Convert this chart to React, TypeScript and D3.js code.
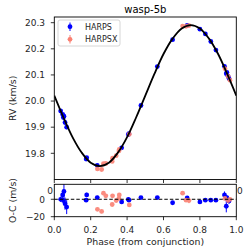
import { scaleLinear, line as d3Line, curveCatmullRom } from 'd3';

// model curve (phase, RV km/s)
const modelPhase = [0, 0.05, 0.1, 0.15, 0.2, 0.25, 0.3, 0.35, 0.4, 0.45, 0.5, 0.55, 0.6, 0.65, 0.7, 0.75, 0.8, 0.85, 0.9, 0.95, 1.0];
const modelRv = [20.021, 19.938, 19.862, 19.803, 19.764, 19.751, 19.764, 19.803, 19.862, 19.938, 20.021, 20.104, 20.18, 20.239, 20.278, 20.291, 20.278, 20.239, 20.18, 20.104, 20.021];

// HARPS
const harpsPhase = [0.035, 0.046, 0.053, 0.059, 0.068, 0.05, 0.178, 0.175, 0.236, 0.37, 0.407, 0.41, 0.476, 0.566, 0.65, 0.73, 0.8, 0.83, 0.86, 0.888, 0.935, 0.945, 0.948, 0.955, 0.96];
const harpsRv = [19.962, 19.949, 19.942, 19.918, 19.9, 19.937, 19.783, 19.778, 19.754, 19.821, 19.872, 19.875, 19.983, 20.132, 20.235, 20.29, 20.275, 20.257, 20.228, 20.195, 20.133, 20.105, 20.11, 20.095, 20.086];
const harpsRes = [0, 5, 9, -5, -9, -1.5, 5, -1, 2, -3, 0, -1, 2, 2, -4, 1.5, -3, -1, -1, -1, 5, -8, 2, -1, -2];
const harpsErr = [3, 4, 10, 7, 8, 3, 2.5, 2, 2, 2, 2, 2, 1.5, 1.5, 2, 1.5, 1.5, 1.5, 1.5, 1.5, 4, 7, 3, 3, 3];

// HARPSX
const harpsxPhase = [0.237, 0.26, 0.27, 0.283, 0.32, 0.318, 0.34, 0.357, 0.355, 0.412, 0.705, 0.724, 0.74, 0.938, 0.955, 0.965];
const harpsxRv = [19.74, 19.738, 19.76, 19.761, 19.781, 19.769, 19.791, 19.815, 19.809, 19.873, 20.287, 20.286, 20.289, 20.124, 20.095, 20.08];
const harpsxRes = [-11.5, -14, 7, 4, 4, -6, -1.5, 5, 1, -6.5, 7, -1, -1.5, 1, -1.5, 0];
const harpsxErr = [2, 2, 2, 2, 2, 2, 2, 2, 2, 2, 2, 2, 3, 2, 2, 2];

const rvTicks = [19.8, 19.9, 20.0, 20.1, 20.2, 20.3];
const resTicks = [0, -20];
const phaseTicks = [0, 0.2, 0.4, 0.6, 0.8, 1.0];

const BLUE = '#0000ff';
const RED = '#fa8072';
const FONT = 'DejaVu Sans, sans-serif';
const TXT = '#262626';

const App = () => {
  const x = scaleLinear().domain([0, 1]).range([54.3, 236.3]);
  const yTop = scaleLinear().domain([19.6997, 20.3218]).range([179.5, 17]);
  const yBot = scaleLinear().domain([-20, 17.2]).range([216.7, 184.3]);

  const model = d3Line<number>()
    .x((p) => x(p))
    .y((_, i) => yTop(modelRv[i]))
    .curve(curveCatmullRom);

  const topPts = (ph: number[], rv: number[], err: number[], c: string) =>
    ph.map((p, i) => (
      <g key={c + i}>
        <line x1={x(p)} x2={x(p)} y1={yTop(rv[i] - err[i] / 1000)} y2={yTop(rv[i] + err[i] / 1000)} stroke={c} strokeWidth={1} />
        <circle cx={x(p)} cy={yTop(rv[i])} r={2.4} fill={c} />
      </g>
    ));

  const botPts = (ph: number[], res: number[], err: number[], c: string) =>
    ph.map((p, i) => (
      <g key={c + 'r' + i}>
        <line x1={x(p)} x2={x(p)} y1={yBot(res[i] - err[i])} y2={yBot(res[i] + err[i])} stroke={c} strokeWidth={1} />
        <circle cx={x(p)} cy={yBot(res[i])} r={2.4} fill={c} />
      </g>
    ));

  return (
    <svg width={249} height={249} style={{ position: 'absolute', left: 0, top: 0 }} fontFamily={FONT}>
      <rect width={249} height={249} fill="white" />
      <text x={145.3} y={12.5} fontSize={10} textAnchor="middle" fill="black">wasp-5b</text>

      {/* top panel */}
      <defs>
        <clipPath id="clipTop"><rect x={54.3} y={17} width={182} height={162.5} /></clipPath>
        <clipPath id="clipBot"><rect x={54.3} y={184.3} width={182} height={32.4} /></clipPath>
      </defs>
      <g clipPath="url(#clipTop)">
        {topPts(harpsPhase, harpsRv, harpsErr, BLUE)}
        <g opacity={0.9}>{topPts(harpsxPhase, harpsxRv, harpsxErr, RED)}</g>
        <path d={model(modelPhase) ?? ''} fill="none" stroke="black" strokeWidth={1.8} />
      </g>
      <rect x={54.3} y={17} width={182} height={162.5} fill="none" stroke="black" strokeWidth={0.9} />
      {rvTicks.map((t) => (
        <g key={t}>
          <line x1={50.8} x2={54.3} y1={yTop(t)} y2={yTop(t)} stroke="black" strokeWidth={0.8} />
          <text x={45} y={yTop(t) + 3.3} fontSize={9} textAnchor="end" fill={TXT}>{t.toFixed(1)}</text>
        </g>
      ))}
      {phaseTicks.map((t) => (
        <line key={t} x1={x(t)} x2={x(t)} y1={179.5} y2={183} stroke="black" strokeWidth={0.8} />
      ))}
      <text transform="translate(16,98.3) rotate(-90)" fontSize={9.4} textAnchor="middle" fill={TXT}>RV (km/s)</text>

      {/* legend */}
      <rect x={58} y={20} width={62} height={26} rx={2} fill="white" fillOpacity={0.8} stroke="#cccccc" strokeWidth={0.8} />
      <line x1={70} x2={70} y1={22.5} y2={31} stroke={BLUE} strokeWidth={1} />
      <circle cx={70} cy={26.7} r={2.4} fill={BLUE} />
      <text x={85} y={29.6} fontSize={8} fill={TXT}>HARPS</text>
      <line x1={70} x2={70} y1={35} y2={43.5} stroke={RED} strokeWidth={1} />
      <circle cx={70} cy={39.3} r={2.4} fill={RED} />
      <text x={85} y={42.2} fontSize={8} fill={TXT}>HARPSX</text>

      {/* residual panel */}
      <g clipPath="url(#clipBot)">
        {botPts(harpsPhase, harpsRes, harpsErr, BLUE)}
        <g opacity={0.9}>{botPts(harpsxPhase, harpsxRes, harpsxErr, RED)}</g>
      </g>
      <line x1={54.3} x2={236.3} y1={yBot(0)} y2={yBot(0)} stroke="black" strokeWidth={1} strokeDasharray="3.5,2" />
      <rect x={54.3} y={184.3} width={182} height={32.4} fill="none" stroke="black" strokeWidth={0.9} />
      {resTicks.map((t) => (
        <g key={t}>
          <line x1={50.8} x2={54.3} y1={yBot(t)} y2={yBot(t)} stroke="black" strokeWidth={0.8} />
          <text x={45} y={yBot(t) + 3.3} fontSize={9} textAnchor="end" fill={TXT}>{t < 0 ? '\u2212' + Math.abs(t) : t}</text>
        </g>
      ))}
      <text x={53} y={194.3} fontSize={9} textAnchor="end" fill={TXT}>0</text>
      <text x={237} y={194.3} fontSize={9} fill={TXT}>0</text>
      {phaseTicks.map((t) => (
        <g key={t}>
          <line x1={x(t)} x2={x(t)} y1={216.7} y2={220.2} stroke="black" strokeWidth={0.8} />
          <text x={x(t)} y={233} fontSize={9} textAnchor="middle" fill={TXT}>{t.toFixed(1)}</text>
        </g>
      ))}
      <text transform="translate(16,200.5) rotate(-90)" fontSize={9.4} textAnchor="middle" fill={TXT}>O-C (m/s)</text>
      <text x={145.3} y={244.5} fontSize={9.4} textAnchor="middle" fill={TXT}>Phase (from conjunction)</text>
    </svg>
  );
};

export default App;
